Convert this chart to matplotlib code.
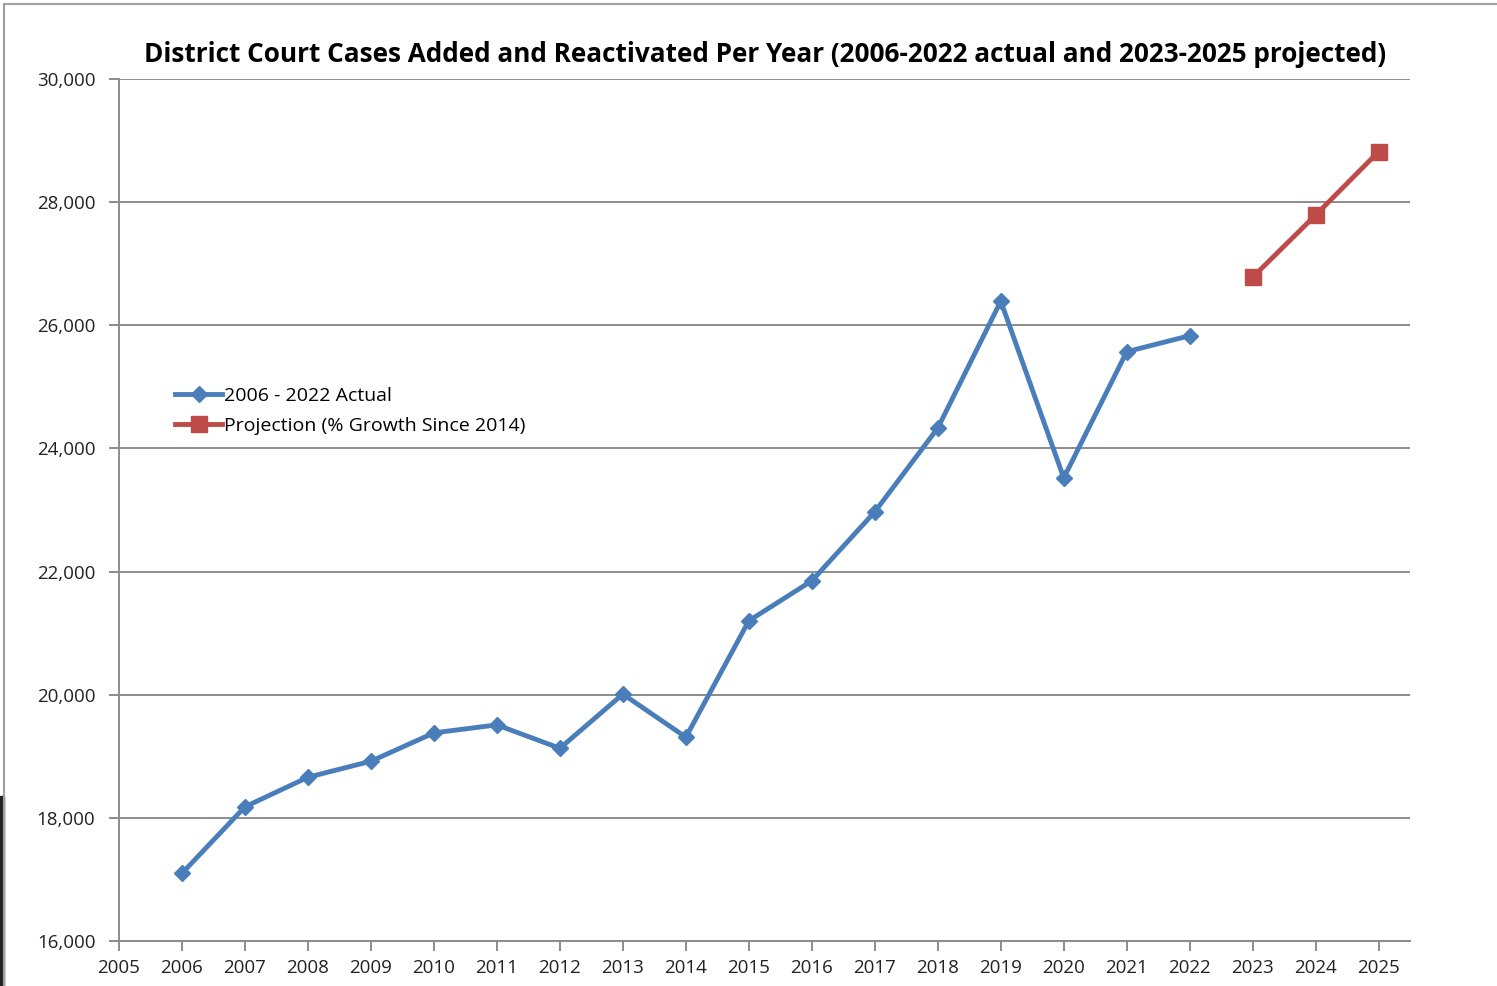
import numpy as np
import matplotlib.pyplot as plt
from matplotlib.lines import Line2D

plt.rcParams['font.family'] = ['Open Sans', 'DejaVu Sans']

years_actual = [2006, 2007, 2008, 2009, 2010, 2011, 2012, 2013, 2014, 2015,
                2016, 2017, 2018, 2019, 2020, 2021, 2022]
cases_actual = [17100, 18180, 18660, 18920, 19380, 19510, 19130, 20010, 19310, 21200,
                21850, 22970, 24330, 26390, 23520, 25570, 25830]
years_proj = [2023, 2024, 2025]
cases_proj = [26780, 27790, 28820]

blue = '#4a7ebb'
red = '#be4b48'

fig = plt.figure(figsize=(14.97, 9.86), dpi=100)
ax = fig.add_axes([0.0795, 0.0456, 0.8625, 0.8744])

ax.plot(years_actual, cases_actual, color=blue, linewidth=3.5, marker='D',
        markersize=8, label='2006 - 2022 Actual', zorder=3)
ax.plot(years_proj, cases_proj, color=red, linewidth=3.5, marker='s',
        markersize=11, label='Projection (% Growth Since 2014)', zorder=3)

ax.set_xlim(2005, 2025.5)
ax.set_ylim(16000, 30000)
ax.set_xticks(range(2005, 2026))
ax.set_yticks(range(16000, 30001, 2000))
ax.yaxis.set_major_formatter(plt.FuncFormatter(lambda v, p: f'{int(v):,}'))
ax.grid(axis='y', color='#8c8c8c', linewidth=1.4)
ax.set_axisbelow(True)
for s in ['top', 'right']:
    ax.spines[s].set_visible(False)
for s in ['left', 'bottom']:
    ax.spines[s].set_color('#8c8c8c')
    ax.spines[s].set_linewidth(1.4)
ax.tick_params(axis='both', labelsize=13.5, color='#8c8c8c', width=1.4, length=7,
               labelcolor='#222222')
ax.tick_params(axis='y', pad=10)
ax.tick_params(axis='x', pad=6)

ax.set_title('District Court Cases Added and Reactivated Per Year (2006-2022 actual and 2023-2025 projected)',
             fontsize=18.8, fontweight='bold', pad=12)

ax.legend(loc='upper left', bbox_to_anchor=(0.03, 0.663), frameon=False,
          fontsize=14, handlelength=2.4, handletextpad=0.1, labelspacing=0.6)

# outer border of the chart picture
fig.add_artist(Line2D([0.003, 1.0], [0.996, 0.996], color='#a0a0a0', linewidth=1.5))
fig.add_artist(Line2D([0.003, 0.003], [0.0, 0.996], color='#a0a0a0', linewidth=1.5))
fig.add_artist(plt.Rectangle((0, 0), 0.003, 0.193, color='#222222'))

fig.savefig('out.png')
